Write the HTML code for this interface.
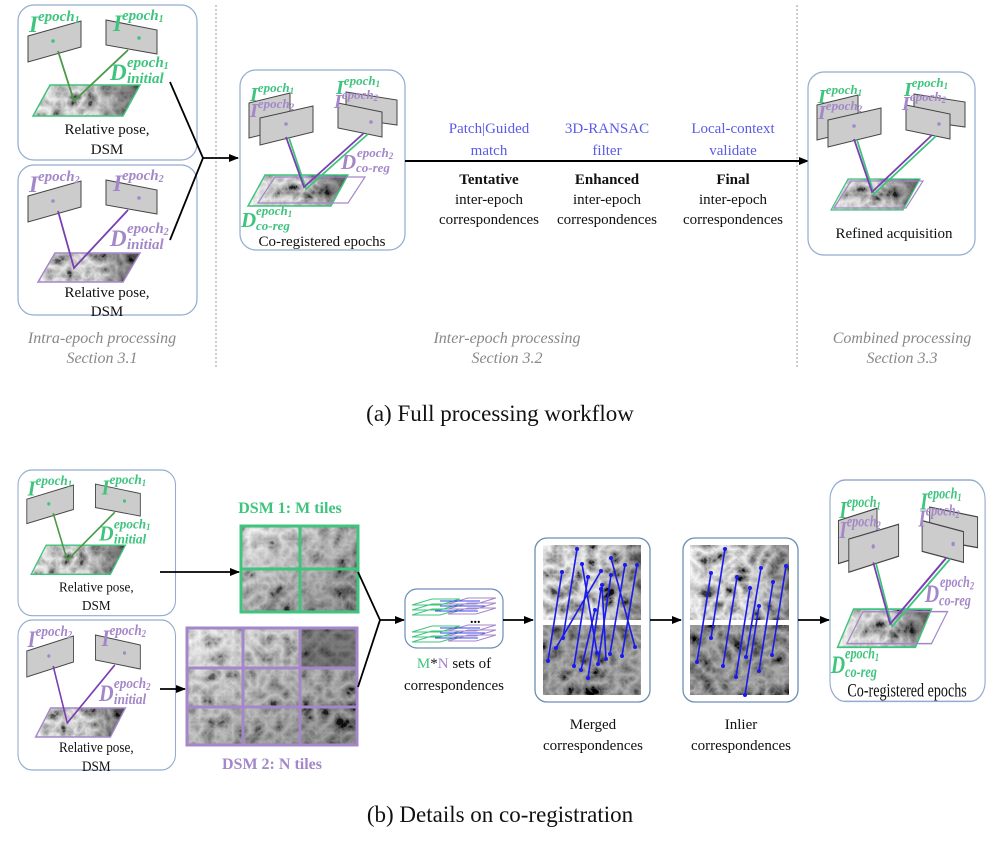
<!DOCTYPE html>
<html><head><meta charset="utf-8"><style>
html,body{margin:0;padding:0;background:#fff;width:1000px;height:845px;overflow:hidden}
svg{display:block}
text{font-family:"Liberation Serif",serif}
.g{fill:#3fc47e}.p{fill:#a487c9}
.lab{font-weight:bold;font-style:italic}
.cap{font-size:15px;fill:#111;text-anchor:middle}
.blue{font-size:15px;fill:#5a5ae8;text-anchor:middle}
.sec{font-size:16px;font-style:italic;fill:#888;text-anchor:middle}
</style></head><body>
<svg width="1000" height="845" viewBox="0 0 1000 845" xmlns="http://www.w3.org/2000/svg">
<defs>
<filter id="terr" x="0" y="0" width="100%" height="100%">
<feTurbulence type="turbulence" baseFrequency="0.06" numOctaves="4" seed="5" result="n"/>
<feColorMatrix in="n" type="matrix" values="-1.5 0 0 0 1.05 -1.5 0 0 0 1.05 -1.5 0 0 0 1.05 0 0 0 0 1" result="gray"/>
<feComposite in="gray" in2="SourceGraphic" operator="in"/>
</filter>
<linearGradient id="shade" x1="0" y1="0" x2="1" y2="0">
<stop offset="0" stop-color="#fff" stop-opacity="0.55"/>
<stop offset="0.5" stop-color="#888" stop-opacity="0.1"/>
<stop offset="1" stop-color="#000" stop-opacity="0.6"/>
</linearGradient>
<linearGradient id="shadeV" x1="0" y1="0" x2="1" y2="1">
<stop offset="0" stop-color="#fff" stop-opacity="0.5"/>
<stop offset="1" stop-color="#000" stop-opacity="0.4"/>
</linearGradient>
<marker id="ah" markerWidth="10" markerHeight="8" refX="9" refY="4" orient="auto" markerUnits="userSpaceOnUse">
<path d="M0,0 L10,4 L0,8 z" fill="#000"/></marker>
<marker id="bd" markerWidth="5" markerHeight="5" refX="2.5" refY="2.5" markerUnits="userSpaceOnUse"><circle cx="2.5" cy="2.5" r="2" fill="#1a1aee"/></marker>
</defs>

<line x1="216" y1="5" x2="216" y2="368" stroke="#999" stroke-dasharray="2,2"/>
<line x1="797" y1="5" x2="797" y2="368" stroke="#999" stroke-dasharray="2,2"/>

<!-- ===== Box A1 ===== -->
<g id="boxA1">
<rect x="18" y="5" width="179" height="155" rx="16" fill="#fff" stroke="#93abd0" stroke-width="1.2"/>
<polygon points="28,36 81,21 81,47 28,62" fill="#ccc" stroke="#444"/>
<polygon points="106,20 157,30 157,54 106,45" fill="#ccc" stroke="#444"/>
<circle cx="53" cy="41" r="1.8" class="g"/><circle cx="139" cy="38" r="1.8" class="g"/>
<polygon points="33,116 50,85 140,85 123,116" fill="#fff" filter="url(#terr)"/>
<polygon points="33,116 50,85 140,85 123,116" fill="url(#shade)" stroke="#3fc47e" stroke-width="1.5"/>
<polyline points="58,51 74,101 128,50" fill="none" stroke="#4a9a45" stroke-width="1.8"/>
<text x="29" y="32" class="lab g" font-size="23">I<tspan font-size="15" dy="-11">epoch</tspan><tspan font-size="10" dy="2">1</tspan></text>
<text x="113" y="31" class="lab g" font-size="23">I<tspan font-size="15" dy="-11">epoch</tspan><tspan font-size="10" dy="2">1</tspan></text>
<text x="110" y="80" class="lab g" font-size="23">D</text>
<text x="127" y="67" class="lab g" font-size="15">epoch<tspan font-size="10" dy="2">1</tspan></text>
<text x="127" y="83" class="lab g" font-size="15">initial</text>
<text x="107" y="134" class="cap" font-size="16">Relative pose,</text>
<text x="107" y="154" class="cap" font-size="16">DSM</text>
</g>

<!-- ===== Box A2 ===== -->
<g id="boxA2">
<rect x="18" y="165" width="179" height="150" rx="16" fill="#fff" stroke="#93abd0" stroke-width="1.2"/>
<polygon points="28,196 81,181 81,207 28,222" fill="#ccc" stroke="#444"/>
<polygon points="106,180 157,190 157,214 106,205" fill="#ccc" stroke="#444"/>
<circle cx="53" cy="201" r="1.8" class="p"/><circle cx="139" cy="198" r="1.8" class="p"/>
<polygon points="38,282 55,253 140,253 123,282" fill="#fff" filter="url(#terr)"/>
<polygon points="38,282 55,253 140,253 123,282" fill="url(#shade)" stroke="#a487c9" stroke-width="1.5"/>
<polyline points="58,211 74,268 128,210" fill="none" stroke="#7a3fb0" stroke-width="1.8"/>
<text x="29" y="192" class="lab p" font-size="23">I<tspan font-size="15" dy="-11">epoch</tspan><tspan font-size="10" dy="2">2</tspan></text>
<text x="113" y="191" class="lab p" font-size="23">I<tspan font-size="15" dy="-11">epoch</tspan><tspan font-size="10" dy="2">2</tspan></text>
<text x="110" y="246" class="lab p" font-size="23">D</text>
<text x="127" y="233" class="lab p" font-size="15">epoch<tspan font-size="10" dy="2">2</tspan></text>
<text x="127" y="249" class="lab p" font-size="15">initial</text>
<text x="107" y="297" class="cap" font-size="16">Relative pose,</text>
<text x="107" y="316" class="cap" font-size="16">DSM</text>
</g>

<polyline points="170,82 203,158 170,240" fill="none" stroke="#000" stroke-width="1.8"/>
<line x1="203" y1="158" x2="238" y2="158" stroke="#000" stroke-width="1.8" marker-end="url(#ah)"/>

<!-- ===== Box B ===== -->
<g id="boxB">
<rect x="240" y="70" width="165" height="180" rx="16" fill="#fff" stroke="#93abd0" stroke-width="1.2"/>
<polygon points="249,103 290,93 290,128 249,138" fill="#ccc" stroke="#444"/>
<polygon points="260,118 313,106 313,132 260,145" fill="#ccc" stroke="#444"/>
<polygon points="346,92 397,100 397,125 346,118" fill="#ccc" stroke="#444"/>
<polygon points="338,103 382,112 382,137 338,128" fill="#ccc" stroke="#444"/>
<circle cx="286" cy="124" r="1.8" class="p"/><circle cx="371" cy="122" r="1.8" class="p"/>
<polygon points="248,206 265,175 348,175 331,206" fill="#fff" filter="url(#terr)"/>
<polygon points="248,206 265,175 348,175 331,206" fill="url(#shade)" stroke="#3fc47e" stroke-width="1.4"/>
<polygon points="258,203 275,177 365,177 348,203" fill="none" stroke="#a487c9" stroke-width="1.2"/>
<polyline points="289,138 306,189 368,134" fill="none" stroke="#3fc47e" stroke-width="1.8"/>
<polyline points="286,137 304,187 364,133" fill="none" stroke="#7a3fb0" stroke-width="1.8"/>
<text x="250" y="101" class="lab g" font-size="20">I<tspan font-size="13" dy="-9">epoch</tspan><tspan font-size="9" dy="2">1</tspan></text>
<text x="250" y="117" class="lab p" font-size="20">I<tspan font-size="13" dy="-9">epoch</tspan><tspan font-size="9" dy="2">2</tspan></text>
<text x="336" y="94" class="lab g" font-size="20">I<tspan font-size="13" dy="-9">epoch</tspan><tspan font-size="9" dy="2">1</tspan></text>
<text x="334" y="108" class="lab p" font-size="20">I<tspan font-size="13" dy="-9">epoch</tspan><tspan font-size="9" dy="2">2</tspan></text>
<text x="341" y="169" class="lab p" font-size="21">D</text>
<text x="357" y="157" class="lab p" font-size="13">epoch<tspan font-size="9" dy="2">2</tspan></text>
<text x="356" y="172" class="lab p" font-size="13">co-reg</text>
<text x="241" y="227" class="lab g" font-size="21">D</text>
<text x="256" y="215" class="lab g" font-size="13">epoch<tspan font-size="9" dy="2">1</tspan></text>
<text x="256" y="230" class="lab g" font-size="13">co-reg</text>
<text x="322" y="246" class="cap" font-size="16">Co-registered epochs</text>
</g>

<line x1="405" y1="161" x2="808" y2="161" stroke="#000" stroke-width="2" marker-end="url(#ah)"/>
<text x="489" y="133" class="blue">Patch|Guided</text>
<text x="489" y="155" class="blue">match</text>
<text x="607" y="133" class="blue">3D-RANSAC</text>
<text x="607" y="155" class="blue">filter</text>
<text x="733" y="133" class="blue">Local-context</text>
<text x="733" y="155" class="blue">validate</text>
<text x="489" y="184" class="cap" font-weight="bold">Tentative</text>
<text x="489" y="204" class="cap">inter-epoch</text>
<text x="489" y="224" class="cap">correspondences</text>
<text x="607" y="184" class="cap" font-weight="bold">Enhanced</text>
<text x="607" y="204" class="cap">inter-epoch</text>
<text x="607" y="224" class="cap">correspondences</text>
<text x="733" y="184" class="cap" font-weight="bold">Final</text>
<text x="733" y="204" class="cap">inter-epoch</text>
<text x="733" y="224" class="cap">correspondences</text>

<!-- ===== Box C ===== -->
<g transform="translate(568,2)">
<rect x="240" y="70" width="167" height="183" rx="16" fill="#fff" stroke="#93abd0" stroke-width="1.2"/>
<polygon points="249,103 290,93 290,128 249,138" fill="#ccc" stroke="#444"/>
<polygon points="260,118 313,106 313,132 260,145" fill="#ccc" stroke="#444"/>
<polygon points="346,92 397,100 397,125 346,118" fill="#ccc" stroke="#444"/>
<polygon points="338,103 382,112 382,137 338,128" fill="#ccc" stroke="#444"/>
<circle cx="286" cy="124" r="1.8" class="p"/><circle cx="371" cy="122" r="1.8" class="p"/>
<polygon points="263,208 280,177 352,177 335,208" fill="#fff" filter="url(#terr)"/>
<polygon points="263,208 280,177 352,177 335,208" fill="url(#shade)" stroke="#3fc47e" stroke-width="1.2"/>
<polygon points="266,206 283,179 355,179 338,206" fill="none" stroke="#a487c9" stroke-width="1.2"/>
<polyline points="289,138 306,192 368,134" fill="none" stroke="#3fc47e" stroke-width="1.8"/>
<polyline points="286,137 304,190 364,133" fill="none" stroke="#7a3fb0" stroke-width="1.8"/>
<text x="250" y="101" class="lab g" font-size="20">I<tspan font-size="13" dy="-9">epoch</tspan><tspan font-size="9" dy="2">1</tspan></text>
<text x="250" y="117" class="lab p" font-size="20">I<tspan font-size="13" dy="-9">epoch</tspan><tspan font-size="9" dy="2">2</tspan></text>
<text x="336" y="94" class="lab g" font-size="20">I<tspan font-size="13" dy="-9">epoch</tspan><tspan font-size="9" dy="2">1</tspan></text>
<text x="334" y="108" class="lab p" font-size="20">I<tspan font-size="13" dy="-9">epoch</tspan><tspan font-size="9" dy="2">2</tspan></text>
<text x="326" y="236" class="cap" font-size="15">Refined acquisition</text>
</g>

<text x="102" y="343" class="sec">Intra-epoch processing</text>
<text x="102" y="363" class="sec">Section 3.1</text>
<text x="507" y="343" class="sec">Inter-epoch processing</text>
<text x="507" y="363" class="sec">Section 3.2</text>
<text x="902" y="343" class="sec">Combined processing</text>
<text x="902" y="363" class="sec">Section 3.3</text>
<text x="500" y="421" font-size="23" text-anchor="middle" fill="#111">(a)  Full processing workflow</text>

<!-- ================= Part b ================= -->
<g transform="translate(18,470) scale(0.88,0.94) translate(-18,-5)">
<use href="#boxA1"/>
</g>
<g transform="translate(18,620) scale(0.88,1.0) translate(-18,-165)">
<use href="#boxA2"/>
</g>

<rect x="241" y="526" width="117" height="86" fill="#fff" filter="url(#terr)"/>
<rect x="241" y="526" width="117" height="86" fill="url(#shadeV)"/>
<g fill="none" stroke="#3fc47e" stroke-width="3">
<rect x="241" y="526" width="117" height="86"/>
<line x1="300" y1="526" x2="300" y2="612"/><line x1="241" y1="569" x2="358" y2="569"/>
</g>
<text x="290" y="513" font-weight="bold" font-size="16" class="g" text-anchor="middle">DSM 1: M tiles</text>
<rect x="187" y="628" width="170" height="117" fill="#fff" filter="url(#terr)"/>
<rect x="187" y="628" width="170" height="117" fill="url(#shadeV)"/>
<rect x="300" y="628" width="57" height="40" fill="#000" opacity="0.35"/>
<g fill="none" stroke="#a487c9" stroke-width="3">
<rect x="187" y="628" width="170" height="117"/>
<line x1="243" y1="628" x2="243" y2="745"/><line x1="300" y1="628" x2="300" y2="745"/>
<line x1="187" y1="668" x2="357" y2="668"/><line x1="187" y1="707" x2="357" y2="707"/>
</g>
<text x="272" y="769" font-weight="bold" font-size="16" class="p" text-anchor="middle">DSM 2: N tiles</text>

<line x1="160" y1="572" x2="239" y2="572" stroke="#000" stroke-width="1.8" marker-end="url(#ah)"/>
<line x1="160" y1="689" x2="185" y2="689" stroke="#000" stroke-width="1.8" marker-end="url(#ah)"/>
<polyline points="358,572 380,620 358,687" fill="none" stroke="#000" stroke-width="1.8"/>
<line x1="380" y1="620" x2="404" y2="620" stroke="#000" stroke-width="1.8" marker-end="url(#ah)"/>

<rect x="405" y="589" width="98" height="59" rx="12" fill="#fff" stroke="#6a8fb3" stroke-width="1.2"/>
<g stroke-width="1" fill="none">
<g stroke="#3fc47e"><polygon points="412,605 432,599 460,599 440,605"/><polygon points="412,610 432,604 460,604 440,610"/><polygon points="412,615 432,609 460,609 440,615"/>
<polygon points="412,632 432,626 460,626 440,632"/><polygon points="412,637 432,631 460,631 440,637"/><polygon points="412,642 432,636 460,636 440,642"/></g>
<g stroke="#a487c9"><polygon points="448,604 468,598 496,598 476,604"/><polygon points="448,609 468,603 496,603 476,609"/><polygon points="448,614 468,608 496,608 476,614"/>
<polygon points="448,631 468,625 496,625 476,631"/><polygon points="448,636 468,630 496,630 476,636"/><polygon points="448,641 468,635 496,635 476,641"/></g>
<g stroke="#3344ee"><line x1="440" y1="601" x2="480" y2="601"/><line x1="440" y1="606" x2="485" y2="606"/><line x1="435" y1="611" x2="478" y2="611"/>
<line x1="440" y1="628" x2="480" y2="628"/><line x1="440" y1="633" x2="485" y2="633"/><line x1="435" y1="638" x2="478" y2="638"/></g>
</g>
<text x="470" y="623" font-size="14" font-weight="bold" fill="#000">...</text>
<text x="454" y="668" class="cap" font-size="16"><tspan class="g">M</tspan>*<tspan class="p">N</tspan> sets of</text>
<text x="454" y="690" class="cap" font-size="16">correspondences</text>

<line x1="503" y1="620" x2="533" y2="620" stroke="#000" stroke-width="1.8" marker-end="url(#ah)"/>

<rect x="535" y="538" width="115" height="164" rx="12" fill="#fff" stroke="#6a8fb3" stroke-width="1.3"/>
<rect x="543" y="545" width="98" height="75" fill="#fff" filter="url(#terr)"/>
<rect x="543" y="545" width="98" height="75" fill="url(#shade)" opacity="0.6"/>
<rect x="543" y="625" width="98" height="70" fill="#fff" filter="url(#terr)"/>
<rect x="543" y="625" width="98" height="70" fill="#000" opacity="0.3"/>
<g stroke="#1a1aee" stroke-width="1.6" marker-start="url(#bd)" marker-end="url(#bd)">
<line x1="562" y1="572" x2="548" y2="661"/><line x1="577" y1="549" x2="563" y2="638"/>
<line x1="582" y1="564" x2="597" y2="653"/><line x1="588" y1="577" x2="574" y2="666"/>
<line x1="601" y1="571" x2="556" y2="648"/><line x1="601" y1="589" x2="588" y2="678"/>
<line x1="611" y1="558" x2="635" y2="647"/><line x1="611" y1="575" x2="598" y2="664"/>
<line x1="625" y1="565" x2="610" y2="654"/><line x1="637" y1="565" x2="622" y2="656"/>
<line x1="595" y1="610" x2="581" y2="670"/><line x1="602" y1="585" x2="606" y2="659"/>
</g>
<text x="593" y="729" class="cap" font-size="16">Merged</text>
<text x="593" y="750" class="cap" font-size="16">correspondences</text>

<line x1="650" y1="620" x2="681" y2="620" stroke="#000" stroke-width="1.8" marker-end="url(#ah)"/>

<rect x="683" y="538" width="115" height="164" rx="12" fill="#fff" stroke="#6a8fb3" stroke-width="1.3"/>
<rect x="690" y="545" width="99" height="75" fill="#fff" filter="url(#terr)"/>
<rect x="690" y="545" width="99" height="75" fill="url(#shade)" opacity="0.6"/>
<rect x="690" y="625" width="99" height="70" fill="#fff" filter="url(#terr)"/>
<rect x="690" y="625" width="99" height="70" fill="#000" opacity="0.3"/>
<g stroke="#1a1aee" stroke-width="1.6" marker-start="url(#bd)" marker-end="url(#bd)">
<line x1="711" y1="573" x2="697" y2="662"/><line x1="725" y1="549" x2="711" y2="638"/>
<line x1="737" y1="577" x2="723" y2="666"/><line x1="750" y1="588" x2="736" y2="677"/>
<line x1="761" y1="568" x2="746" y2="657"/><line x1="759" y1="606" x2="745" y2="695"/>
<line x1="773" y1="582" x2="759" y2="671"/><line x1="786" y1="566" x2="772" y2="655"/>
</g>
<text x="741" y="729" class="cap" font-size="16">Inlier</text>
<text x="741" y="750" class="cap" font-size="16">correspondences</text>

<line x1="798" y1="620" x2="829" y2="620" stroke="#000" stroke-width="1.8" marker-end="url(#ah)"/>

<g transform="translate(830,480) scale(0.94,1.23) translate(-240,-70)">
<use href="#boxB"/>
</g>

<text x="500" y="822" font-size="23" text-anchor="middle" fill="#111">(b)  Details on co-registration</text>
</svg>
</body></html>
